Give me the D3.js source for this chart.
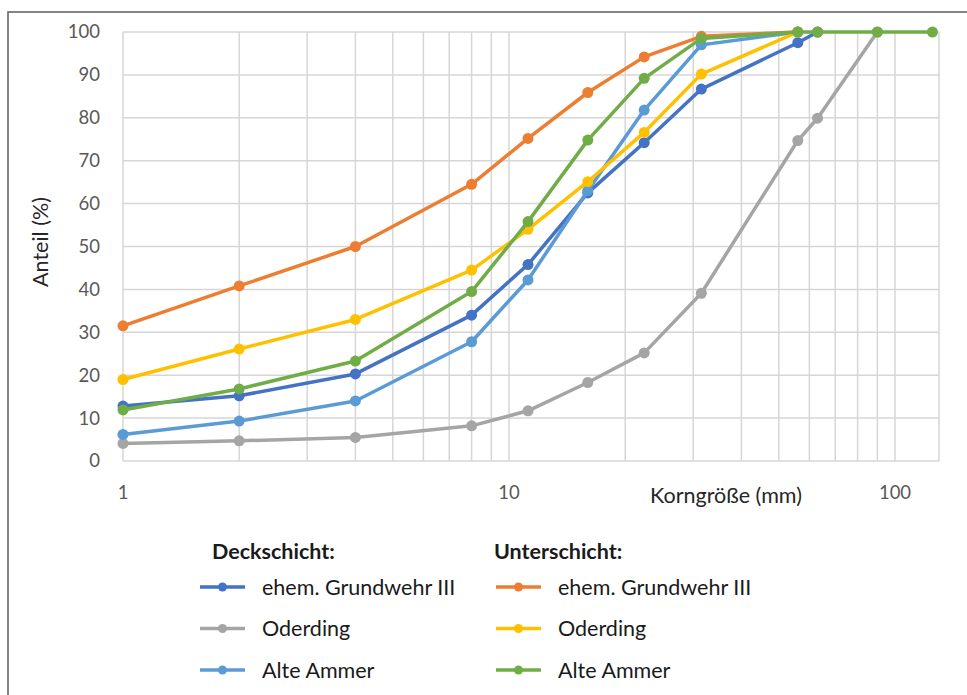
<!DOCTYPE html>
<html>
<head>
<meta charset="utf-8">
<script src="https://cdn.jsdelivr.net/npm/d3@7"></script>
<style>
  body { margin: 0; background: #fff; }
  svg { display: block; font-family: Lato, "Open Sans", sans-serif; }
  .grid line { stroke: #d6d6d6; stroke-width: 1.5; }
  .tick-label { fill: #595959; font-size: 18.5px; }
</style>
</head>
<body>
<svg width="967" height="695"></svg>
<script>
// sieve sizes (mm) and passing percentages
var sizes = [1, 2, 4, 8, 11.2, 16, 22.4, 31.5, 56, 63, 90, 125];

var deckGrundwehr  = [12.8, 15.2, 20.3, 34.0, 45.8, 62.5, 74.2, 86.7, 97.5, 100, null, null];
var deckOderding   = [4.1, 4.7, 5.5, 8.2, 11.7, 18.3, 25.2, 39.1, 74.7, 79.9, 100, null];
var deckAlteAmmer  = [6.2, 9.3, 14.0, 27.8, 42.2, 63.0, 81.8, 97.0, 100, null, null, null];
var unterGrundwehr = [31.5, 40.8, 50.0, 64.5, 75.2, 85.9, 94.2, 99.0, 100, null, null, null];
var unterOderding  = [19.0, 26.1, 33.0, 44.5, 54.0, 65.1, 76.6, 90.2, 100, null, null, null];
var unterAlteAmmer = [11.9, 16.8, 23.3, 39.5, 55.8, 74.8, 89.2, 98.5, 100, 100, 100, 100];

var seriesNames = ["ehem. Grundwehr III", "Oderding", "Alte Ammer"];
var colors = ["#4472C4", "#A5A5A5", "#5B9BD5", "#ED7D31", "#FFC000", "#70AD47"];
var series = [deckGrundwehr, deckOderding, deckAlteAmmer, unterGrundwehr, unterOderding, unterAlteAmmer];

var yTicks = [0, 10, 20, 30, 40, 50, 60, 70, 80, 90, 100];
var xLabels = [1, 10, 100];

var svg = d3.select("svg");

// outer frame (runs off the right and bottom of the picture)
svg.append("rect")
    .attr("x", 8).attr("y", 12)
    .attr("width", 1200).attr("height", 1000)
    .attr("fill", "none")
    .attr("stroke", "#666")
    .attr("stroke-width", 1.6);

var x = d3.scaleLog().domain([1, 130]).range([123, 939]);
var y = d3.scaleLinear().domain([0, 100]).range([461, 32]);

// grid
var xGrid = [];
[1, 10].forEach(function (dec) {
    for (var i = 1; i < 10; i++) xGrid.push(dec * i);
});
xGrid.push(100, 130);

var grid = svg.append("g").attr("class", "grid");
grid.selectAll(".gy").data(yTicks).enter().append("line")
    .attr("x1", x(1)).attr("x2", x(130))
    .attr("y1", function (d) { return y(d); })
    .attr("y2", function (d) { return y(d); });
grid.selectAll(".gx").data(xGrid).enter().append("line")
    .attr("x1", function (d) { return x(d); })
    .attr("x2", function (d) { return x(d); })
    .attr("y1", y(0)).attr("y2", y(100));

// y axis labels
svg.append("g").selectAll("text").data(yTicks).enter().append("text")
    .attr("class", "tick-label")
    .attr("x", 100)
    .attr("y", function (d) { return y(d); })
    .attr("dy", "0.35em")
    .attr("text-anchor", "end")
    .text(function (d) { return d; });

// x axis labels
svg.append("g").selectAll("text").data(xLabels).enter().append("text")
    .attr("class", "tick-label")
    .attr("x", function (d) { return x(d); })
    .attr("y", 493)
    .attr("dy", "0.35em")
    .attr("text-anchor", "middle")
    .text(function (d) { return d; });

svg.append("text")
    .attr("transform", "translate(40,242) rotate(-90)")
    .attr("dy", "0.35em")
    .attr("text-anchor", "middle")
    .attr("font-size", 21.5)
    .attr("fill", "#262626")
    .text("Anteil (%)");

svg.append("text")
    .attr("x", 726).attr("y", 495)
    .attr("dy", "0.35em")
    .attr("text-anchor", "middle")
    .attr("font-size", 21.5)
    .attr("fill", "#262626")
    .text("Korngröße (mm)");

// curves
var line = d3.line()
    .x(function (d) { return x(d.s); })
    .y(function (d) { return y(d.v); });

series.forEach(function (vals, i) {
    var pts = sizes.map(function (s, j) { return { s: s, v: vals[j] }; })
        .filter(function (d) { return d.v != null; });
    var g = svg.append("g");
    g.append("path")
        .datum(pts)
        .attr("d", line)
        .attr("fill", "none")
        .attr("stroke", colors[i])
        .attr("stroke-width", 3.5)
        .attr("stroke-linejoin", "round");
    g.selectAll("circle").data(pts).enter().append("circle")
        .attr("cx", function (d) { return x(d.s); })
        .attr("cy", function (d) { return y(d.v); })
        .attr("r", 5.5)
        .attr("fill", colors[i]);
});

// legend
var legend = svg.append("g").attr("font-size", 21.5).attr("fill", "#1a1a1a");
var cols = [{ title: "Deckschicht:", x: 200, titleX: 212 }, { title: "Unterschicht:", x: 496, titleX: 494 }];
cols.forEach(function (c, ci) {
    legend.append("text")
        .attr("x", c.titleX).attr("y", 551)
        .attr("dy", "0.35em")
        .attr("font-weight", "bold")
        .text(c.title);
    seriesNames.forEach(function (name, ri) {
        var k = ci * 3 + ri;
        var ly = 587 + ri * 41.5;
        legend.append("line")
            .attr("x1", c.x).attr("x2", c.x + 45)
            .attr("y1", ly).attr("y2", ly)
            .attr("stroke", colors[k])
            .attr("stroke-width", 3.5);
        legend.append("circle")
            .attr("cx", c.x + 22.5).attr("cy", ly)
            .attr("r", 4.5)
            .attr("fill", colors[k]);
        legend.append("text")
            .attr("x", c.x + 62).attr("y", ly)
            .attr("dy", "0.35em")
            .text(name);
    });
});
</script>
</body>
</html>
